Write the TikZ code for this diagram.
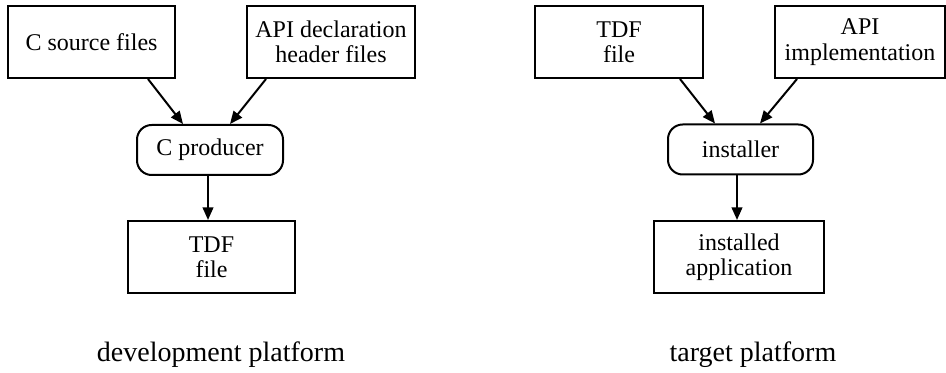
\documentclass[tikz,border=0pt]{standalone}
\usepackage{fontspec}
\setmainfont{Liberation Serif}
\usetikzlibrary{arrows.meta,calc}
\begin{document}
\begin{tikzpicture}[x=0.75pt,y=-0.75pt,
  box/.style={draw,line width=1.5pt,minimum width=#1*0.75pt,minimum height=72*0.75pt,inner sep=0pt,align=center,font=\fontsize{18pt}{19pt}\selectfont},
  proc/.style={draw,line width=1.5pt,rounded corners=11pt,minimum width=#1*0.75pt,minimum height=50*0.75pt,inner sep=0pt,align=center,font=\fontsize{18pt}{19pt}\selectfont},
  conn/.style={line width=1.5pt,-{Triangle[length=9.5pt,width=8pt]}},
  caption/.style={font=\fontsize{21pt}{24pt}\selectfont,inner sep=0pt}]
\useasboundingbox (0,0) rectangle (946,373);
% development platform
\node[box=167] (csrc) at (91.5,42) {C source files};
\node[box=168] (apidecl) at (331,42) {API declaration\\header files};
\node[proc=146] (cprod) at (210,150) {C producer};
\node[box=167] (tdfa) at (211.5,257) {TDF\\file};
\node[caption] (dev) at (221,355) {development platform};
\draw[conn] ($(csrc.south)+(56.5,0)$) -- ($(cprod.north)+(-27,0)$);
\draw[conn] ($(apidecl.south)+(-65,0)$) -- ($(cprod.north)+(20,0)$);
\draw[conn] ($(cprod.south)+(-2,0)$) -- ($(cprod.south |- tdfa.north)+(-2,0)$);
% target platform
\node[box=168] (tdfb) at (619,42) {TDF\\file};
\node[box=170] (apiimpl) at (860,42) {API\\implementation};
\node[proc=145] (inst) at (740.5,149.5) {installer};
\node[box=170] (app) at (739,257) {installed\\application};
\node[caption] (tgt) at (753,355) {target platform};
\draw[conn] ($(tdfb.south)+(61,0)$) -- ($(inst.north)+(-25.5,0)$);
\draw[conn] ($(apiimpl.south)+(-63,0)$) -- ($(inst.north)+(19.5,0)$);
\draw[conn] ($(inst.south)+(-3.5,0)$) -- ($(inst.south |- app.north)+(-3.5,0)$);
\end{tikzpicture}
\end{document}
